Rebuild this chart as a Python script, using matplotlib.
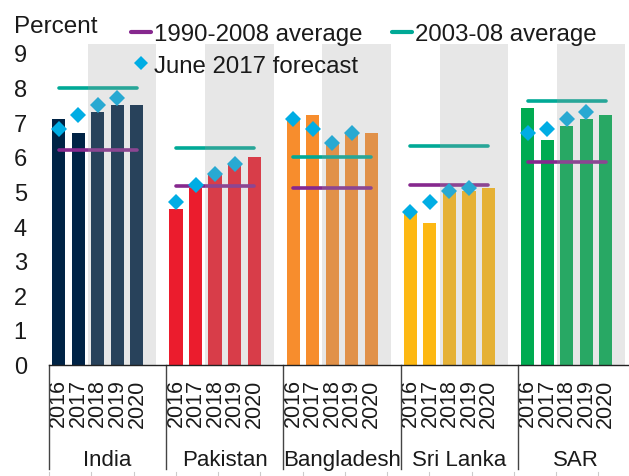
import numpy as np
import matplotlib.pyplot as plt
from matplotlib.lines import Line2D
from matplotlib.transforms import blended_transform_factory

plt.rcParams['font.family'] = ['Liberation Sans', 'DejaVu Sans']

countries = ['India', 'Pakistan', 'Bangladesh', 'Sri Lanka', 'SAR']
years = ['2016', '2017', '2018', '2019', '2020']

# real GDP growth, percent
growth = [
    [7.1, 6.7, 7.3, 7.5, 7.5],
    [4.5, 5.1, 5.5, 5.8, 6.0],
    [7.1, 7.2, 6.4, 6.7, 6.7],
    [4.4, 4.1, 5.0, 5.0, 5.1],
    [7.4, 6.5, 6.9, 7.1, 7.2],
]
june_forecast = [
    [6.8, 7.2, 7.5, 7.7],
    [4.7, 5.2, 5.5, 5.8],
    [7.1, 6.8, 6.4, 6.7],
    [4.4, 4.7, 5.0, 5.1],
    [6.7, 6.8, 7.1, 7.3],
]
avg_1990_2008 = [6.2, 5.15, 5.1, 5.2, 5.85]
avg_2003_08 = [8.0, 6.25, 6.0, 6.3, 7.6]

bar_colors = ['#002345', '#EB1C2D', '#F78D2D', '#FDB813', '#00AB51']
purple = '#86288E'
teal = '#00A996'
blue = '#00ADE4'
text_col = '#1a1a1a'

W, H = 629, 477
fig = plt.figure(figsize=(W / 100, H / 100), dpi=100)
ax = fig.add_axes([49 / W, (H - 365.5) / H, 586 / W, 320.5 / H])
ytop = 9.26
ax.set_xlim(0, 30)
ax.set_ylim(0, ytop)

slot = 6
for g, c in enumerate(countries):
    xs = np.arange(5) + slot * g + 0.5
    ax.bar(xs, growth[g], width=0.67, color=bar_colors[g], zorder=2, linewidth=0)
    ax.plot([xs[0], xs[-1]], [avg_1990_2008[g]] * 2, color=purple, lw=2.6,
            solid_capstyle='round', zorder=3)
    ax.plot([xs[0], xs[-1]], [avg_2003_08[g]] * 2, color=teal, lw=2.6,
            solid_capstyle='round', zorder=3)
    ax.plot(xs[:4], june_forecast[g], 'D', color=blue, ms=8.5, mew=0, zorder=4)
    # shaded forecast years
    ax.bar(slot * g + 2, ytop, width=3.5, align='edge', color='#a0a0a0',
           alpha=0.25, zorder=5, linewidth=0)

# axes styling
for s in ['left', 'top', 'right']:
    ax.spines[s].set_visible(False)
ax.spines['bottom'].set_color('#222222')
ax.spines['bottom'].set_linewidth(1.0)
ax.spines['bottom'].set_zorder(6)

ax.set_yticks(range(10))
ax.tick_params(axis='y', length=0, pad=16, labelsize=17, labelcolor=text_col)

xt = [slot * g + i + 0.5 for g in range(5) for i in range(5)]
ax.set_xticks(xt)
ax.set_xticklabels(years * 5, rotation=90, fontsize=15.5, color=text_col)
ax.tick_params(axis='x', length=0, pad=10)

trans = blended_transform_factory(ax.transData, ax.transAxes)
for g in range(6):
    ax.plot([slot * g, slot * g], [0, -0.326], color='#444444', lw=1.0,
            transform=trans, clip_on=False, zorder=6)
for g, c in enumerate(countries):
    ax.text(slot * g + 3, -0.315, c, transform=trans, ha='center', va='baseline',
            fontsize=16, color=text_col)
for k in range(14):
    ax.plot([k * 2.163, k * 2.163], [-0.336, -0.348], color='#cccccc', lw=0.8,
            transform=trans, clip_on=False)

fig.text(14 / W, 1 - 33 / H, 'Percent', fontsize=17.5, color=text_col,
         va='baseline', ha='left')

handles = [
    Line2D([], [], color=purple, lw=3, solid_capstyle='round'),
    Line2D([], [], marker='D', ls='', color=blue, ms=7, mew=0),
    Line2D([], [], color=teal, lw=3, solid_capstyle='round'),
]
labels = ['1990-2008 average', 'June 2017 forecast', '2003-08 average']
leg = ax.legend(handles, labels, ncol=2, loc='upper left',
                bbox_to_anchor=(131 / W, 1 - 24 / H), bbox_transform=fig.transFigure,
                frameon=False, fontsize=17.3, handlelength=0.85, handletextpad=0.12,
                columnspacing=1.2, borderpad=0, borderaxespad=0, labelspacing=0.4)
leg.set_zorder(10)
for t in leg.get_texts():
    t.set_color(text_col)

fig.savefig('out.png', dpi=100)
